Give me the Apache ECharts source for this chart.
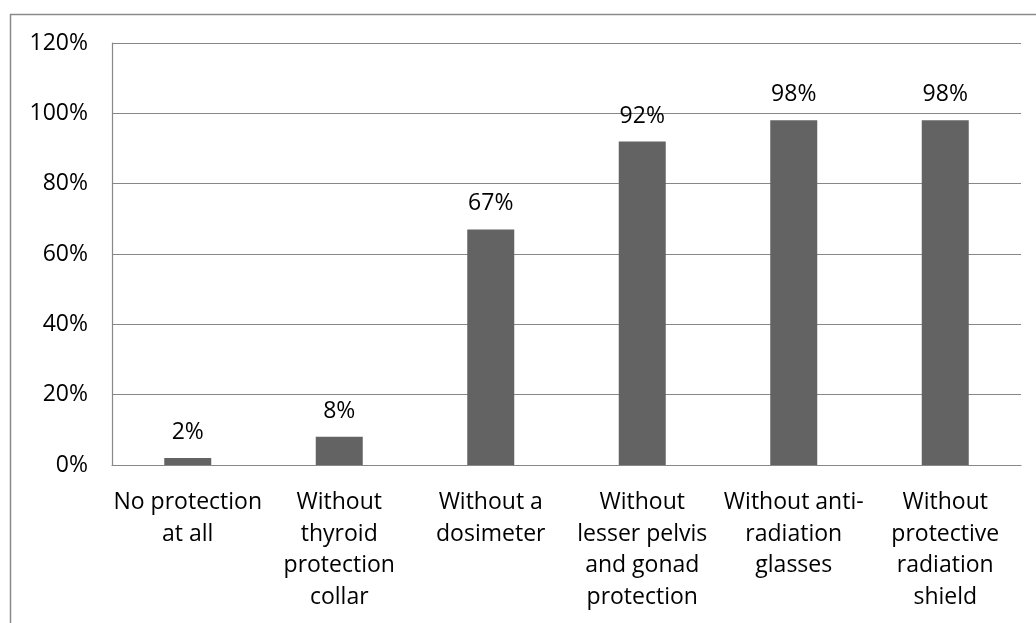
<!DOCTYPE html>
<html><head><meta charset="utf-8">
<script src="https://cdn.jsdelivr.net/npm/echarts@6/dist/echarts.min.js"></script>
<style>html,body{margin:0;padding:0;background:#fff}#c{width:1036px;height:623px}</style>
</head><body><div id="c"></div>
<script>
const categories = ["No protection\nat all", "Without\nthyroid\nprotection\ncollar", "Without a\ndosimeter", "Without\nlesser pelvis\nand gonad\nprotection", "Without anti-\nradiation\nglasses", "Without\nprotective\nradiation\nshield"];
const values = [2, 8, 67, 92, 98, 98];
const yTicks = [0, 20, 40, 60, 80, 100, 120];

const FONT = "'Open Sans', sans-serif";
const chart = echarts.init(document.getElementById('c'), null, {renderer: 'canvas'});
chart.setOption({
  animation: false,
  backgroundColor: '#fff',
  graphic: [{
    type: 'rect', shape: {x: 10.5, y: 14.5, width: 1100, height: 700},
    style: {fill: 'none', stroke: '#8a8a8a', lineWidth: 1.5}, silent: true
  }],
  grid: {left: 112, top: 43, right: 15, bottom: 158, containLabel: false},
  xAxis: {
    type: 'category', data: categories,
    axisLine: {show: true, lineStyle: {color: '#878787', width: 1.2}},
    axisTick: {show: false},
    axisLabel: {color: '#000', fontFamily: FONT, fontSize: 23, lineHeight: 31.5, margin: 22, interval: 0}
  },
  yAxis: {
    type: 'value', min: yTicks[0], max: yTicks[yTicks.length - 1], interval: 20,
    axisLine: {show: true, lineStyle: {color: '#878787', width: 1.2}},
    axisTick: {show: false},
    splitLine: {show: true, lineStyle: {color: '#878787', width: 1.2}},
    axisLabel: {color: '#000', fontFamily: FONT, fontSize: 23, margin: 24, formatter: v => v + '%'}
  },
  series: [{
    type: 'bar', data: values, barWidth: 47,
    itemStyle: {color: '#636363'},
    label: {show: true, position: 'top', distance: 14, color: '#000', fontFamily: FONT, fontSize: 23, formatter: p => p.value + '%'}
  }]
});
</script></body></html>
